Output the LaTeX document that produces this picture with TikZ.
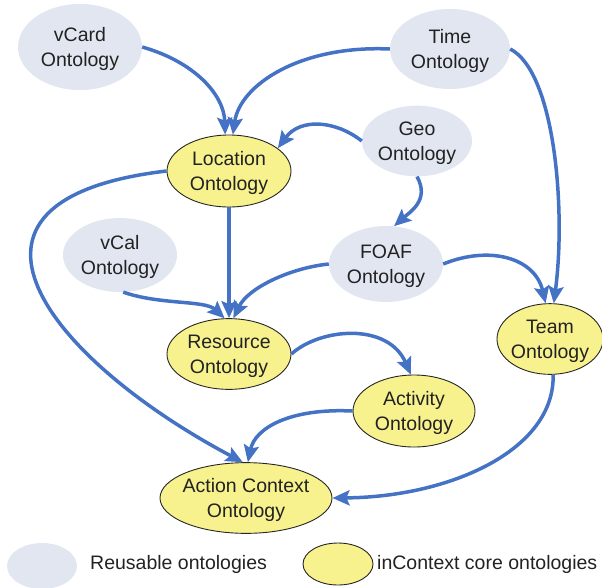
\documentclass[tikz,border=0pt]{standalone}
\usepackage{fontspec}
\setmainfont{Liberation Sans}
\usetikzlibrary{shapes.geometric,arrows.meta}
\definecolor{edgeblue}{HTML}{4472C4}
\definecolor{reusefill}{HTML}{E1E6F1}
\definecolor{corefill}{HTML}{F7F28D}
\definecolor{txt}{HTML}{222222}
\newcommand\onttext[2]{\makebox[0pt]{\raisebox{-2pt}[\height][\depth]{\begin{tabular}{@{}c@{}}#1\\#2\end{tabular}}}}
\tikzset{
  ont/.style={ellipse, inner sep=0pt, text=txt,
    font=\fontsize{19.5}{25}\selectfont},
  reuse/.style={ont, fill=reusefill},
  core/.style={ont, fill=corefill, draw=black!85, line width=0.9pt},
  dep/.style={draw=edgeblue, line width=3.5pt,
    -{Stealth[length=17pt,width=15pt,inset=3pt]}},
  legtext/.style={anchor=west, text=txt, inner sep=0pt,
    font=\fontsize{19.5}{25}\selectfont}
}
\begin{document}
\begin{tikzpicture}[x=1pt,y=-1pt]
\useasboundingbox (0,0) rectangle (602,587);
% reusable ontologies
\node[reuse, minimum width=124pt, minimum height=86pt] (vcard) at (80,47) {\onttext{vCard}{Ontology}};
\node[reuse, minimum width=120pt, minimum height=80pt] (time) at (450,49) {\onttext{Time}{Ontology}};
\node[reuse, minimum width=110pt, minimum height=68pt] (geo) at (417,141) {\onttext{Geo}{Ontology}};
\node[reuse, minimum width=114pt, minimum height=74pt] (vcal) at (120,255) {\onttext{vCal}{Ontology}};
\node[reuse, minimum width=114pt, minimum height=76pt] (foaf) at (386,264) {\onttext{FOAF}{Ontology}};
% core ontologies
\node[core, minimum width=124pt, minimum height=72pt] (loc) at (229,171) {\onttext{Location}{Ontology}};
\node[core, minimum width=124pt, minimum height=70pt] (res) at (229,354) {\onttext{Resource}{Ontology}};
\node[core, minimum width=106pt, minimum height=66pt] (team) at (550,339) {\onttext{Team}{Ontology}};
\node[core, minimum width=122pt, minimum height=72pt] (act) at (414,411) {\onttext{Activity}{Ontology}};
\node[core, minimum width=172pt, minimum height=68pt] (ac) at (246,498) {\onttext{Action Context}{Ontology}};
% legend
\node[reuse, minimum width=70pt, minimum height=46pt] (legreuse) at (42,566) {};
\node[legtext] (legreusetext) at (90,564) {Reusable ontologies};
\node[core, minimum width=70pt, minimum height=42pt] (legcore) at (338,564) {};
\node[legtext] (legcoretext) at (377,564) {inContext core ontologies};
% dependencies
\draw[dep] (vcard.east) .. controls (195,62) and (224,95) .. (loc.96);
\draw[dep] (time.west) .. controls (300,45) and (240,85) .. (loc.84);
\draw[dep] (time.east) .. controls (555,72) and (566,210) .. (team.84);
\draw[dep] (geo.west) .. controls (335,120) and (300,118) .. (loc.25);
\draw[dep] (geo.south) .. controls (430,200) and (410,212) .. (foaf.78);
\draw[dep] (foaf.west) .. controls (290,268) and (248,288) .. (res.83);
\draw[dep] (foaf.east) .. controls (490,245) and (535,258) .. (team.97);
\draw[dep] (loc.south) -- (res.north);
\draw[dep] (vcal.-85) .. controls (160,305) and (205,300) .. (res.97);
\draw[dep] (loc.west) .. controls (-80,200) and (50,360) .. (ac.95);
\draw[dep] (res.east) .. controls (320,328) and (388,322) .. (act.95);
\draw[dep] (act.west) .. controls (290,408) and (255,428) .. (ac.87);
\draw[dep] (team.-85) .. controls (555,450) and (450,497) .. (ac.east);
\end{tikzpicture}
\end{document}
